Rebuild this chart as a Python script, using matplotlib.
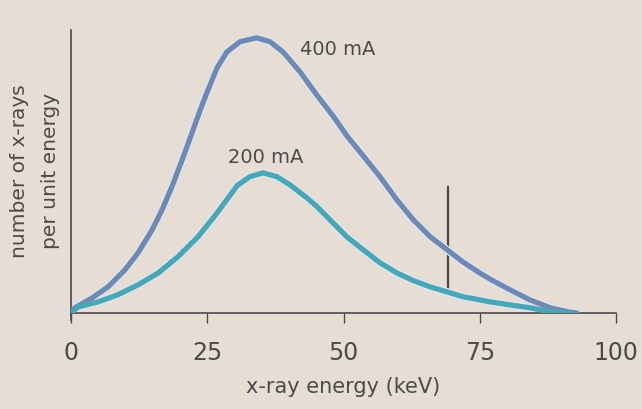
import matplotlib.pyplot as plt

# x-ray energy (keV) and relative number of x-rays
energy_400 = [0, 0.7, 3.9, 6.8, 9.9, 12.3, 14.9, 16.7, 18.5, 20.4, 22.2, 23.7,
              25.0, 26.8, 28.6, 31.0, 34.1, 36.5, 38.9, 42.0, 45.1, 48.1, 50.6,
              53.6, 56.7, 59.8, 62.8, 65.9, 69.0, 71.9, 75.0, 76.9, 80.6, 84.2,
              87.9, 91.6, 92.8]
counts_400 = [0, 1.8, 5.3, 9.2, 15.2, 21.2, 29.4, 36.4, 44.5, 54.1, 63.6, 71.7,
              78.1, 86.6, 92.2, 95.8, 97.2, 95.8, 92.2, 85.2, 77.0, 69.5, 62.6,
              55.5, 48.1, 39.9, 32.9, 26.9, 22.3, 18.0, 14.1, 11.9, 8.1, 4.6,
              1.8, 0.2, 0]

energy_200 = [0, 1.3, 5.0, 8.6, 12.3, 16.0, 19.6, 23.3, 26.4, 27.9, 30.5, 32.8,
              35.2, 37.8, 40.2, 43.3, 45.1, 47.5, 50.6, 53.6, 56.7, 59.8, 62.8,
              65.9, 69.0, 71.9, 75.0, 76.9, 80.6, 84.2, 87.9, 91.6]
counts_200 = [0, 2.1, 3.9, 6.4, 9.9, 14.1, 19.8, 26.9, 34.3, 38.2, 45.0, 48.1,
              49.5, 48.1, 45.2, 40.6, 37.6, 32.9, 26.9, 22.3, 17.7, 14.1, 11.4,
              9.2, 7.4, 5.7, 4.6, 3.9, 2.8, 1.8, 0.4, 0]

marker_energy = 69.2
marker_range = [7.4, 44.5]

xticks = [0, 25, 50, 75, 100]

bg = "#e6ddd4"
ink = "#4a4a4a"

fig = plt.figure(figsize=(6.42, 4.09), dpi=100, facecolor=bg)
ax = fig.add_axes([0.1106, 0.235, 0.849, 0.692], facecolor=bg)

ax.plot([marker_energy, marker_energy], marker_range, color=ink, lw=1.6, zorder=1)
for x, y, c in [(energy_400, counts_400, "#7088b4"), (energy_200, counts_200, "#4aa6b6")]:
    ax.plot(x, y, color="#dde8ee", lw=5.6, solid_capstyle="round",
            solid_joinstyle="round", zorder=2)
    ax.plot(x, y, color=c, lw=3.8, solid_capstyle="round",
            solid_joinstyle="round", zorder=3)

ax.text(42, 93, "400 mA", fontsize=14, color=ink, va="center", ha="left")
ax.text(28.8, 55, "200 mA", fontsize=14, color=ink, va="center", ha="left")

ax.set_xlim(0, 100)
ax.set_ylim(0, 100)
ax.set_xticks(xticks)
ax.set_yticks([])
ax.tick_params(axis="x", direction="out", length=7, width=1, colors=ink,
               labelsize=17, pad=13)
for s in ["top", "right"]:
    ax.spines[s].set_visible(False)
for s in ["left", "bottom"]:
    ax.spines[s].set_color(ink)
    ax.spines[s].set_linewidth(1.2)
ax.spines["left"].set_bounds(-2.5, 100)
ax.set_xlabel("x-ray energy (keV)", fontsize=15, color=ink, labelpad=9)
ax.set_ylabel("number of x-rays\nper unit energy", fontsize=14.5, color=ink,
              labelpad=8, linespacing=1.8)

fig.savefig("out.png", dpi=100, facecolor=bg)
